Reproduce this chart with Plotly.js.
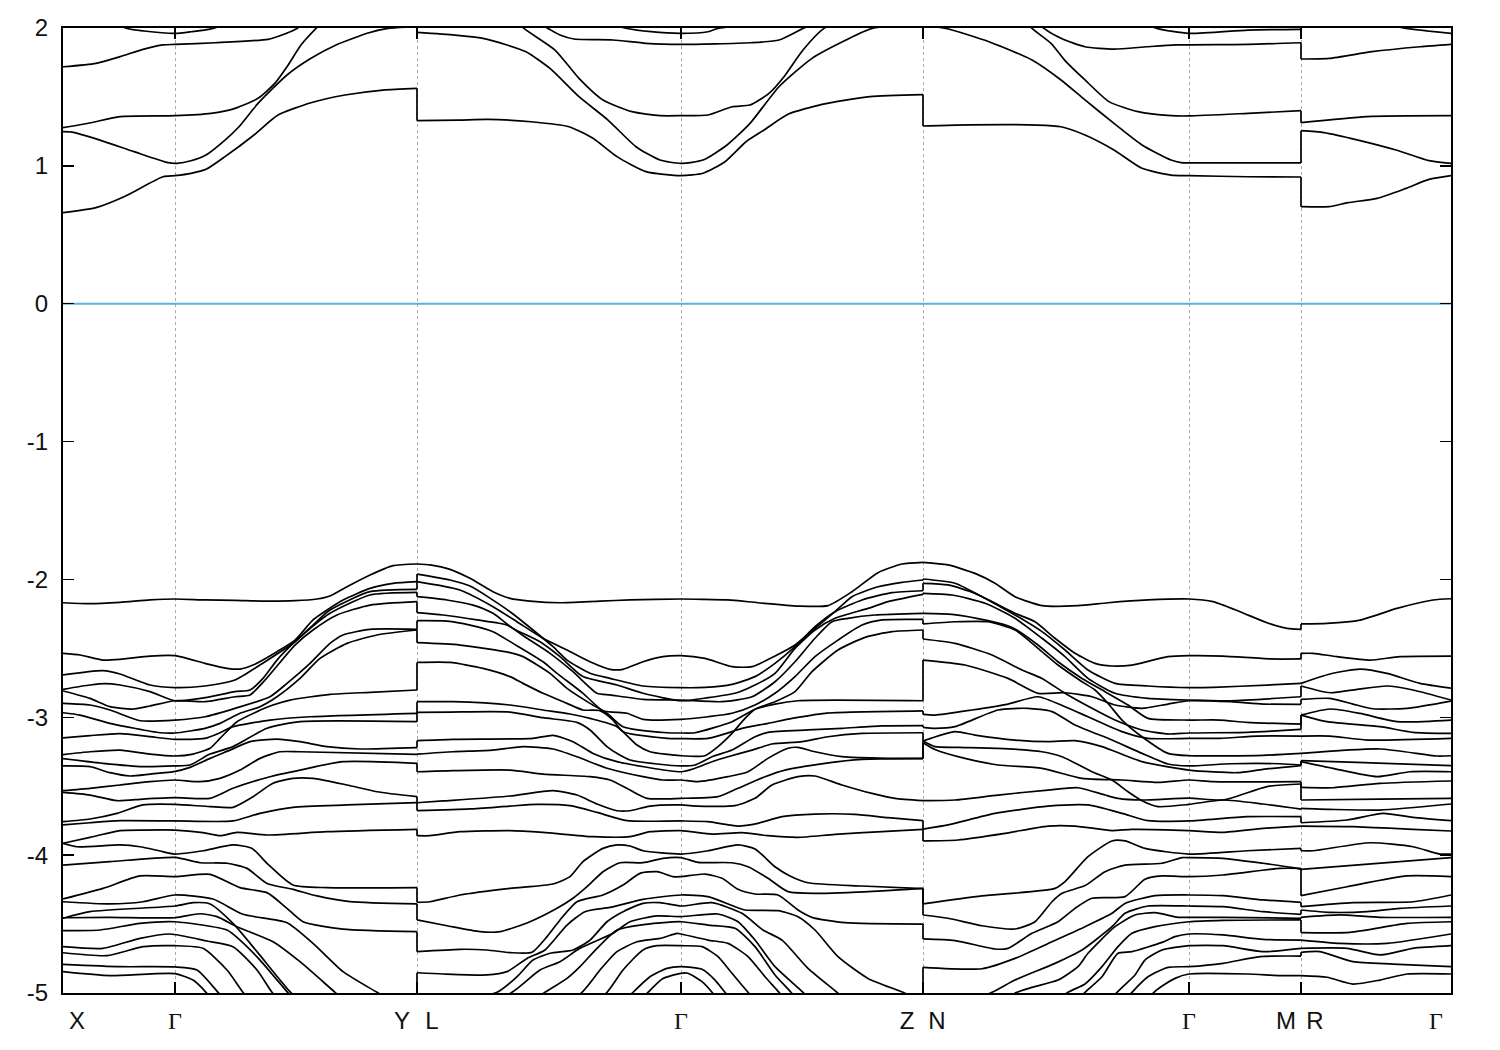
<!DOCTYPE html>
<html><head><meta charset="utf-8">
<script src="https://cdn.plot.ly/plotly-3.0.1.min.js"></script>
<style>html,body{margin:0;padding:0;background:#fff}</style></head>
<body><div id="chart" style="width:1500px;height:1050px"></div>
<script>
// k-path positions
const pathEnd=1388;
const symPoints=[112,354,618,860,1126,1238];
const labelPos=[14,112,339,369,618,844,874,1126,1223,1252,1373];
const labelTxt=['X','G','Y','L','G','Z','N','G','M','R','G'];
const energyTicks=[-5,-4,-3,-2,-1,0,1,2];
// X - Gamma - Y : valence
const a01k=[0,27,57,87,112,142,172,202,232,254,267,284,307,330,354];
const a01e=[-2.169,-2.176,-2.166,-2.149,-2.142,-2.149,-2.152,-2.157,-2.154,-2.142,-2.120,-2.053,-1.968,-1.900,-1.888];
const a02k=[0,17,40,57,87,112,142,164,177,190,214,232,250,264,280,307,330,354];
const a02e=[-2.536,-2.548,-2.585,-2.580,-2.556,-2.553,-2.609,-2.645,-2.650,-2.621,-2.524,-2.440,-2.294,-2.222,-2.149,-2.065,-2.028,-2.016];
const a03k=[0,40,57,87,112,142,172,202,232,250,267,307,354];
const a03e=[-2.693,-2.662,-2.686,-2.766,-2.785,-2.773,-2.730,-2.597,-2.452,-2.331,-2.222,-2.089,-2.072];
const a04k=[0,27,42,57,87,112,142,172,187,200,214,232,250,267,307,354];
const a04e=[-2.797,-2.766,-2.756,-2.766,-2.814,-2.880,-2.858,-2.814,-2.802,-2.718,-2.585,-2.452,-2.338,-2.246,-2.113,-2.094];
const a05k=[0,27,47,70,87,112,142,172,187,202,232,250,274,307,354];
const a05e=[-2.809,-2.863,-2.923,-2.940,-2.918,-2.880,-2.887,-2.851,-2.838,-2.730,-2.476,-2.367,-2.258,-2.186,-2.161];
const a06k=[0,27,47,77,112,142,172,207,224,247,267,280,307,354];
const a06e=[-2.899,-2.911,-2.947,-3.025,-3.020,-2.996,-2.935,-2.851,-2.754,-2.609,-2.464,-2.403,-2.362,-2.362];
const a07k=[0,17,47,97,112,142,157,177,197,214,237,257,284,314,354];
const a07e=[-2.967,-2.984,-3.044,-3.112,-3.114,-3.080,-3.044,-2.971,-2.923,-2.851,-2.718,-2.573,-2.464,-2.403,-2.367];
const a08k=[0,27,57,87,112,142,157,170,207,247,354];
const a08e=[-3.150,-3.133,-3.119,-3.141,-3.160,-3.153,-3.112,-3.068,-3.020,-2.996,-2.971];
const a09k=[0,27,57,87,112,130,147,157,174,194,210,227,267,307,354];
const a09e=[-3.271,-3.250,-3.238,-3.267,-3.281,-3.267,-3.225,-3.153,-3.032,-2.959,-2.911,-2.875,-2.834,-2.819,-2.802];
const a10k=[0,40,80,112,127,147,170,204,237,354];
const a10e=[-3.300,-3.334,-3.358,-3.353,-3.346,-3.267,-3.213,-3.080,-3.032,-3.032];
const a11k=[0,27,47,67,87,112,127,147,167,187,214,237,264,297,354];
const a11e=[-3.353,-3.358,-3.402,-3.426,-3.412,-3.392,-3.363,-3.298,-3.238,-3.177,-3.158,-3.177,-3.213,-3.230,-3.220];
const a12k=[0,27,57,87,112,137,157,177,197,217,237,354];
const a12e=[-3.532,-3.515,-3.491,-3.467,-3.455,-3.467,-3.443,-3.383,-3.298,-3.250,-3.250,-3.269];
const a13k=[0,27,54,80,112,147,170,207,237,280,354];
const a13e=[-3.545,-3.564,-3.605,-3.593,-3.583,-3.588,-3.515,-3.431,-3.383,-3.322,-3.334];
const a14k=[0,27,54,80,112,147,170,190,210,230,250,284,314,354];
const a14e=[-3.757,-3.738,-3.697,-3.636,-3.632,-3.648,-3.653,-3.576,-3.479,-3.443,-3.443,-3.491,-3.540,-3.576];
const a15k=[0,27,57,112,170,197,230,284,354];
const a15e=[-3.781,-3.765,-3.750,-3.752,-3.752,-3.697,-3.653,-3.636,-3.619];
const a16k=[0,27,57,80,112,140,157,174,204,264,354];
const a16e=[-3.914,-3.871,-3.822,-3.818,-3.818,-3.837,-3.859,-3.835,-3.854,-3.830,-3.813];
const a17k=[0,14,57,77,97,112,140,170,189,204,230,264,354];
const a17e=[-3.914,-3.939,-3.926,-3.939,-3.970,-3.992,-3.968,-3.926,-3.951,-4.059,-4.217,-4.236,-4.236];
const a18k=[0,47,112,137,164,184,204,230,254,287,354];
const a18e=[-4.072,-4.047,-4.016,-4.055,-4.059,-4.096,-4.205,-4.248,-4.296,-4.337,-4.354];
const a19k=[0,40,77,112,147,177,204,224,240,280,354];
const a19e=[-4.318,-4.241,-4.151,-4.156,-4.139,-4.236,-4.272,-4.386,-4.483,-4.536,-4.555];
const a20k=[0,47,80,112,150,180,224,250,280,314,344,354];
const a20e=[-4.338,-4.354,-4.338,-4.289,-4.318,-4.429,-4.490,-4.640,-4.845,-4.995,-5.123,-5.147];
const a21k=[0,47,112,137,154,174,210,237,272,304,354];
const a21e=[-4.454,-4.451,-4.454,-4.425,-4.446,-4.519,-4.628,-4.773,-4.995,-5.196,-5.486];
const a22k=[0,27,112,130,147,170,194,227,257,354];
const a22e=[-4.458,-4.410,-4.369,-4.345,-4.354,-4.495,-4.700,-4.990,-5.196,-5.752];
const a23k=[0,37,77,112,164,177,197,224,257,354];
const a23e=[-4.548,-4.543,-4.495,-4.483,-4.543,-4.616,-4.761,-4.990,-5.268,-5.994];
const a24k=[0,40,77,107,144,170,194,209,237,354];
const a24e=[-4.664,-4.676,-4.604,-4.572,-4.623,-4.664,-4.833,-4.995,-5.244,-6.236];
const a25k=[0,44,80,112,140,164,180,210,354];
const a25e=[-4.708,-4.729,-4.664,-4.657,-4.676,-4.833,-4.995,-5.268,-6.480];
const a26k=[0,57,112,134,155,184,354];
const a26e=[-4.792,-4.809,-4.811,-4.833,-4.995,-5.244,-6.720];
const a27k=[0,47,112,130,143,164,354];
const a27e=[-4.845,-4.874,-4.860,-4.906,-4.995,-5.196,-6.960];
// X - Gamma - Y : conduction
const a28k=[0,33,61,100,112,128,143,162,191,215,248,282,320,354];
const a28e=[0.660,0.697,0.776,0.921,0.929,0.946,0.975,1.067,1.224,1.369,1.458,1.514,1.550,1.562];
const a29k=[0,9,37,71,105,114,128,143,162,176,195,224,248,273,306,325,354];
const a29e=[1.248,1.245,1.187,1.103,1.023,1.018,1.037,1.079,1.187,1.284,1.453,1.659,1.780,1.877,1.966,1.997,2.010];
const a30k=[0,28,57,112,148,172,195,212,224,238,253,262,354];
const a30e=[1.277,1.313,1.357,1.364,1.381,1.417,1.490,1.600,1.719,1.877,1.997,2.060,2.400];
const a31k=[0,33,57,81,100,112,152,205,219,234,243,354];
const a31e=[1.719,1.744,1.792,1.847,1.877,1.881,1.893,1.918,1.949,1.997,2.046,2.500];
const a32k=[0,64,81,112,128,150,354];
const a32e=[2.200,1.997,1.978,1.961,1.973,1.997,2.600];
// L - Gamma - Z : valence
const b01k=[354,367,387,407,430,447,467,497,537,567,618,639,665,695,735,765,789,815,839,860];
const b01e=[-1.888,-1.895,-1.927,-1.992,-2.089,-2.137,-2.157,-2.169,-2.157,-2.149,-2.142,-2.144,-2.149,-2.169,-2.193,-2.190,-2.089,-1.951,-1.888,-1.876];
const b02k=[354,387,407,447,490,504,527,547,580,618,642,669,692,712,732,752,772,799,829,860];
const b02e=[-1.961,-2.004,-2.048,-2.234,-2.488,-2.585,-2.681,-2.718,-2.773,-2.785,-2.783,-2.761,-2.705,-2.609,-2.488,-2.343,-2.234,-2.149,-2.096,-2.082];
const b03k=[354,397,430,454,480,504,527,547,560,580,600,618,642,669,689,712,732,752,772,789,815,839,860];
const b03e=[-2.016,-2.077,-2.198,-2.307,-2.427,-2.512,-2.597,-2.652,-2.652,-2.597,-2.560,-2.553,-2.573,-2.633,-2.633,-2.556,-2.476,-2.355,-2.234,-2.125,-2.053,-2.021,-2.004];
const b04k=[354,384,410,430,450,477,497,520,554,580,618,645,672,692,712,732,752,772,805,825,860];
const b04e=[-2.125,-2.149,-2.186,-2.246,-2.355,-2.452,-2.560,-2.705,-2.766,-2.826,-2.880,-2.858,-2.826,-2.766,-2.681,-2.500,-2.367,-2.282,-2.210,-2.161,-2.108];
const b05k=[354,380,414,444,464,487,510,534,547,580,618,659,689,712,732,752,769,785,812,860];
const b05e=[-2.241,-2.258,-2.294,-2.331,-2.427,-2.536,-2.669,-2.826,-2.838,-2.870,-2.875,-2.887,-2.851,-2.742,-2.597,-2.427,-2.307,-2.282,-2.258,-2.246];
const b06k=[354,384,407,430,450,480,494,520,540,564,580,618,645,669,692,712,732,752,775,799,819,860];
const b06e=[-2.299,-2.302,-2.331,-2.379,-2.464,-2.597,-2.681,-2.826,-2.952,-2.971,-3.015,-3.015,-2.996,-2.971,-2.911,-2.826,-2.705,-2.560,-2.440,-2.331,-2.294,-2.290];
const b07k=[354,397,447,460,487,504,527,544,560,604,618,632,669,692,712,735,860];
const b07e=[-2.459,-2.476,-2.531,-2.560,-2.681,-2.790,-2.899,-2.971,-3.068,-3.112,-3.114,-3.112,-3.032,-2.942,-2.904,-2.880,-2.880];
const b08k=[354,387,420,447,460,480,504,520,537,550,560,604,618,645,669,679,705,729,762,860];
const b08e=[-2.602,-2.602,-2.645,-2.705,-2.754,-2.826,-2.899,-2.947,-2.952,-3.020,-3.104,-3.153,-3.155,-3.153,-3.104,-3.080,-3.044,-3.008,-2.971,-2.954];
const b09k=[354,390,447,480,507,527,554,574,587,618,642,655,669,682,692,712,732,749,775,802,829,860];
const b09e=[-2.887,-2.887,-2.911,-2.947,-2.976,-3.008,-3.068,-3.201,-3.250,-3.279,-3.279,-3.213,-3.117,-3.008,-2.942,-2.887,-2.814,-2.669,-2.512,-2.420,-2.379,-2.367];
const b10k=[354,387,447,480,514,527,544,555,567,594,618,632,649,669,692,705,745,779,819,860];
const b10e=[-2.964,-2.962,-2.962,-3.003,-3.037,-3.092,-3.213,-3.267,-3.310,-3.339,-3.353,-3.346,-3.286,-3.238,-3.141,-3.109,-3.092,-3.080,-3.063,-3.061];
const b11k=[354,390,470,490,510,530,554,618,632,649,665,689,709,739,765,799,860];
const b11e=[-3.170,-3.160,-3.153,-3.131,-3.177,-3.262,-3.322,-3.395,-3.370,-3.322,-3.286,-3.238,-3.194,-3.177,-3.141,-3.117,-3.112];
const b12k=[354,390,430,460,490,514,544,580,600,618,635,665,685,705,725,735,752,779,825,860];
const b12e=[-3.267,-3.250,-3.238,-3.213,-3.230,-3.286,-3.370,-3.431,-3.455,-3.455,-3.467,-3.431,-3.395,-3.298,-3.225,-3.218,-3.250,-3.286,-3.298,-3.298];
const b13k=[354,390,447,480,527,547,567,584,618,655,675,702,722,762,799,860];
const b13e=[-3.395,-3.387,-3.383,-3.412,-3.431,-3.455,-3.528,-3.588,-3.588,-3.576,-3.515,-3.431,-3.383,-3.334,-3.305,-3.300];
const b14k=[354,380,447,490,514,534,554,567,587,618,635,672,692,709,735,752,779,809,832,860];
const b14e=[-3.620,-3.607,-3.571,-3.532,-3.564,-3.629,-3.678,-3.678,-3.644,-3.636,-3.644,-3.641,-3.588,-3.491,-3.431,-3.426,-3.491,-3.552,-3.588,-3.605];
const b15k=[354,407,447,474,507,534,564,618,645,675,695,719,752,792,825,860];
const b15e=[-3.677,-3.665,-3.644,-3.632,-3.641,-3.690,-3.750,-3.752,-3.757,-3.789,-3.769,-3.721,-3.702,-3.704,-3.728,-3.750];
const b16k=[354,367,397,447,480,530,567,587,618,649,679,705,735,772,819,860];
const b16e=[-3.859,-3.859,-3.830,-3.822,-3.835,-3.866,-3.866,-3.830,-3.822,-3.847,-3.837,-3.859,-3.871,-3.849,-3.830,-3.813];
const b17k=[354,367,397,447,490,507,520,540,554,567,580,618,645,675,692,712,727,745,799,860];
const b17e=[-4.342,-4.338,-4.289,-4.241,-4.209,-4.156,-4.047,-3.951,-3.926,-3.934,-3.968,-3.992,-3.968,-3.926,-3.955,-4.084,-4.151,-4.200,-4.224,-4.243];
const b18k=[354,384,417,437,467,494,510,524,540,557,580,600,618,635,669,685,705,725,755,785,860];
const b18e=[-4.470,-4.512,-4.555,-4.555,-4.483,-4.386,-4.313,-4.229,-4.120,-4.055,-4.055,-4.023,-4.018,-4.052,-4.055,-4.084,-4.168,-4.265,-4.277,-4.272,-4.241];
const b19k=[354,397,424,447,469,484,497,514,540,560,577,594,610,618,642,659,675,692,715,735,749,782,860];
const b19e=[-4.700,-4.683,-4.688,-4.707,-4.705,-4.591,-4.470,-4.338,-4.289,-4.217,-4.132,-4.120,-4.156,-4.156,-4.137,-4.168,-4.248,-4.282,-4.289,-4.398,-4.451,-4.490,-4.500];
const b20k=[354,380,424,444,464,482,504,522,547,580,618,645,672,682,715,735,752,775,805,840,860];
const b20e=[-4.853,-4.862,-4.869,-4.845,-4.749,-4.688,-4.507,-4.410,-4.379,-4.321,-4.289,-4.301,-4.374,-4.398,-4.403,-4.446,-4.543,-4.736,-4.894,-4.995,-5.063];
const b21k=[354,434,454,470,487,510,527,544,560,580,597,618,649,679,700,719,745,774,799,860];
const b21e=[-5.099,-4.995,-4.882,-4.761,-4.712,-4.688,-4.616,-4.483,-4.410,-4.350,-4.345,-4.369,-4.345,-4.422,-4.543,-4.616,-4.821,-4.995,-5.148,-5.293];
const b22k=[354,449,477,497,517,550,567,594,618,655,675,692,712,740,772,860];
const b22e=[-5.341,-4.995,-4.833,-4.773,-4.676,-4.567,-4.483,-4.441,-4.446,-4.427,-4.483,-4.616,-4.809,-4.995,-5.244,-5.873];
const b23k=[354,482,504,517,534,554,577,618,645,672,692,712,728,762,860];
const b23e=[-5.583,-4.995,-4.894,-4.809,-4.676,-4.543,-4.507,-4.483,-4.507,-4.531,-4.664,-4.869,-4.995,-5.293,-6.115];
const b24k=[354,519,537,554,574,597,614,618,645,665,685,702,716,752,860];
const b24e=[-5.873,-4.995,-4.833,-4.700,-4.628,-4.604,-4.567,-4.572,-4.616,-4.640,-4.736,-4.882,-4.995,-5.293,-6.357];
const b25k=[354,544,560,580,594,618,639,655,669,685,719,860];
const b25e=[-6.236,-4.995,-4.833,-4.688,-4.657,-4.657,-4.664,-4.736,-4.857,-4.995,-5.293,-6.598];
const b26k=[354,570,587,604,618,639,652,662,695,860];
const b26e=[-6.598,-4.995,-4.882,-4.821,-4.809,-4.828,-4.906,-4.995,-5.293,-6.840];
const b27k=[354,585,600,618,625,639,649,679,860];
const b27e=[-6.961,-4.995,-4.894,-4.857,-4.857,-4.918,-4.995,-5.293,-7.082];
// L - Gamma - Z : conduction
const b28k=[354,396,425,468,506,530,554,583,618,640,662,683,701,725,759,807,860];
const b28e=[1.328,1.332,1.337,1.320,1.284,1.200,1.067,0.958,0.929,0.946,1.030,1.175,1.260,1.374,1.446,1.502,1.516];
const b29k=[354,392,420,444,463,487,516,545,573,597,618,640,664,687,716,749,783,809,860];
const b29e=[1.968,1.949,1.925,1.877,1.828,1.707,1.502,1.332,1.139,1.042,1.018,1.042,1.151,1.308,1.574,1.780,1.913,1.997,2.030];
const b30k=[354,440,461,492,516,540,569,597,618,645,669,687,706,721,740,761,783,860];
const b30e=[2.400,2.150,1.997,1.840,1.635,1.478,1.393,1.364,1.364,1.369,1.429,1.441,1.526,1.647,1.840,1.997,2.060,2.400];
const b31k=[354,460,485,497,511,550,583,618,687,716,740,760,860];
const b31e=[2.500,2.100,1.997,1.949,1.920,1.913,1.889,1.881,1.893,1.913,1.997,2.060,2.500];
const b32k=[354,540,564,588,618,645,655,700,860];
const b32e=[2.600,2.050,1.997,1.973,1.961,1.973,1.997,2.050,2.600];
// N - Gamma - M : valence
const c01k=[860,885,912,932,952,979,1015,1045,1085,1126,1150,1177,1204,1224,1238];
const c01e=[-1.876,-1.895,-1.956,-2.028,-2.125,-2.190,-2.190,-2.169,-2.149,-2.142,-2.161,-2.234,-2.314,-2.355,-2.362];
const c02k=[860,892,919,952,972,992,1012,1032,1049,1069,1105,1126,1160,1207,1238];
const c02e=[-1.997,-2.028,-2.125,-2.246,-2.307,-2.427,-2.536,-2.609,-2.628,-2.621,-2.560,-2.553,-2.556,-2.577,-2.577];
const c03k=[860,885,912,952,979,1002,1025,1052,1085,1126,1150,1204,1238];
const c03e=[-2.028,-2.040,-2.101,-2.258,-2.379,-2.512,-2.657,-2.754,-2.773,-2.785,-2.783,-2.766,-2.754];
const c04k=[860,889,922,952,979,1002,1025,1052,1085,1126,1168,1238];
const c04e=[-2.101,-2.113,-2.173,-2.282,-2.427,-2.560,-2.718,-2.826,-2.863,-2.875,-2.880,-2.851];
const c05k=[860,889,925,949,975,995,1019,1042,1065,1085,1126,1157,1184,1238];
const c05e=[-2.246,-2.253,-2.299,-2.348,-2.476,-2.597,-2.718,-2.814,-2.911,-3.008,-3.020,-3.020,-3.037,-3.049];
const c06k=[860,892,925,952,975,995,1019,1032,1045,1059,1079,1105,1126,1200,1238];
const c06e=[-2.323,-2.307,-2.307,-2.367,-2.500,-2.621,-2.742,-2.802,-2.899,-3.020,-3.141,-3.262,-3.279,-3.276,-3.262];
const c07k=[860,892,929,959,979,1002,1029,1052,1079,1105,1126,1184,1238];
const c07e=[-2.432,-2.464,-2.548,-2.657,-2.718,-2.826,-2.935,-3.020,-3.092,-3.121,-3.114,-3.109,-3.088];
const c08k=[860,902,945,975,1002,1029,1052,1079,1105,1126,1168,1200,1238];
const c08e=[-2.585,-2.621,-2.718,-2.826,-2.822,-2.851,-2.911,-2.935,-2.904,-2.880,-2.887,-2.904,-2.906];
const c09k=[860,872,909,945,975,1002,1025,1059,1085,1126,1157,1194,1238];
const c09e=[-2.979,-2.984,-2.947,-2.904,-2.851,-2.923,-2.996,-3.104,-3.153,-3.153,-3.153,-3.136,-3.136];
const c10k=[860,872,892,935,965,989,1012,1049,1079,1105,1126,1168,1217,1238];
const c10e=[-3.073,-3.080,-3.068,-2.947,-2.935,-2.959,-3.056,-3.165,-3.262,-3.339,-3.353,-3.337,-3.337,-3.346];
const c11k=[860,892,912,952,985,1012,1039,1079,1126,1174,1200,1238];
const c11e=[-3.172,-3.104,-3.129,-3.165,-3.177,-3.170,-3.213,-3.322,-3.383,-3.402,-3.378,-3.351];
const c12k=[860,872,902,935,979,1019,1059,1095,1126,1150,1238];
const c12e=[-3.184,-3.233,-3.298,-3.346,-3.370,-3.443,-3.455,-3.472,-3.455,-3.467,-3.467];
const c13k=[860,872,895,935,979,999,1029,1049,1065,1079,1095,1126,1160,1200,1238];
const c13e=[-3.172,-3.213,-3.218,-3.225,-3.250,-3.286,-3.395,-3.455,-3.540,-3.605,-3.648,-3.632,-3.600,-3.629,-3.666];
const c14k=[860,892,935,985,1015,1042,1055,1079,1126,1160,1204,1238];
const c14e=[-3.605,-3.600,-3.564,-3.528,-3.511,-3.564,-3.588,-3.600,-3.586,-3.600,-3.503,-3.484];
const c15k=[860,885,932,985,1025,1059,1085,1126,1184,1238];
const c15e=[-3.811,-3.781,-3.697,-3.644,-3.636,-3.697,-3.750,-3.752,-3.721,-3.721];
const c16k=[860,895,942,985,1012,1049,1069,1126,1160,1200,1238];
const c16e=[-3.897,-3.890,-3.842,-3.789,-3.789,-3.822,-3.813,-3.822,-3.835,-3.806,-3.789];
const c17k=[860,919,992,1002,1025,1049,1062,1082,1126,1184,1238];
const c17e=[-4.354,-4.296,-4.241,-4.192,-4.011,-3.897,-3.897,-3.951,-3.992,-3.968,-3.951];
const c18k=[860,885,919,952,972,989,999,1022,1042,1062,1099,1119,1126,1160,1200,1230,1238];
const c18e=[-4.434,-4.458,-4.512,-4.536,-4.483,-4.338,-4.277,-4.221,-4.120,-4.072,-4.059,-4.018,-4.018,-4.023,-4.059,-4.091,-4.103];
const c19k=[860,892,932,945,969,995,1012,1029,1062,1082,1099,1126,1160,1217,1238];
const c19e=[-4.608,-4.620,-4.681,-4.676,-4.567,-4.483,-4.386,-4.313,-4.301,-4.175,-4.151,-4.156,-4.144,-4.096,-4.096];
const c20k=[860,919,952,989,1022,1049,1062,1092,1126,1160,1200,1238];
const c20e=[-4.814,-4.824,-4.749,-4.628,-4.519,-4.422,-4.350,-4.294,-4.289,-4.294,-4.325,-4.342];
const c21k=[860,929,952,992,1019,1049,1062,1085,1126,1160,1200,1238];
const c21e=[-5.196,-4.995,-4.906,-4.785,-4.688,-4.519,-4.422,-4.369,-4.369,-4.374,-4.410,-4.429];
const c22k=[860,954,969,995,1015,1025,1052,1072,1092,1115,1126,1160,1238];
const c22e=[-5.389,-4.995,-4.959,-4.906,-4.809,-4.712,-4.519,-4.434,-4.417,-4.451,-4.451,-4.451,-4.458];
const c23k=[860,1005,1022,1039,1055,1069,1092,1126,1160,1238];
const c23e=[-5.752,-4.995,-4.935,-4.809,-4.664,-4.567,-4.519,-4.483,-4.473,-4.470];
const c24k=[860,1022,1039,1055,1069,1099,1112,1126,1160,1200,1238];
const c24e=[-6.115,-4.995,-4.882,-4.712,-4.700,-4.633,-4.591,-4.572,-4.579,-4.611,-4.616];
const c25k=[860,1054,1072,1082,1099,1126,1160,1200,1238];
const c25e=[-6.598,-4.995,-4.869,-4.761,-4.688,-4.657,-4.657,-4.700,-4.676];
const c26k=[860,1069,1085,1105,1126,1160,1197,1238];
const c26e=[-6.840,-4.995,-4.882,-4.814,-4.809,-4.785,-4.736,-4.732];
const c27k=[860,1091,1112,1126,1184,1217,1238];
const c27e=[-7.082,-4.995,-4.894,-4.862,-4.862,-4.874,-4.874];
// N - Gamma - M : conduction
const c28k=[860,893,974,998,1022,1051,1079,1108,1126,1185,1238];
const c28e=[1.289,1.296,1.296,1.284,1.224,1.115,0.982,0.933,0.929,0.921,0.919];
const c29k=[860,883,926,969,998,1022,1051,1079,1108,1118,1126,1238];
const c29e=[2.020,1.997,1.900,1.768,1.623,1.478,1.308,1.151,1.042,1.023,1.021,1.021];
const c30k=[860,950,969,988,1003,1022,1046,1075,1108,1126,1185,1238];
const c30e=[2.500,2.150,1.997,1.889,1.756,1.623,1.466,1.393,1.364,1.362,1.381,1.400];
const c31k=[860,960,981,998,1022,1051,1084,1113,1185,1238];
const c31e=[2.600,2.150,1.997,1.925,1.864,1.847,1.864,1.877,1.881,1.893];
const c32k=[860,1060,1094,1126,1185,1238];
const c32e=[2.700,2.100,1.997,1.961,1.985,1.990];
// R - Gamma : valence
const d01k=[1238,1264,1297,1334,1370,1388];
const d01e=[-2.323,-2.319,-2.295,-2.210,-2.149,-2.140];
const d02k=[1238,1250,1274,1307,1337,1388];
const d02e=[-2.536,-2.536,-2.560,-2.585,-2.560,-2.556];
const d03k=[1238,1267,1297,1324,1357,1388];
const d03e=[-2.754,-2.686,-2.650,-2.681,-2.754,-2.788];
const d04k=[1238,1267,1294,1324,1350,1388];
const d04e=[-2.773,-2.822,-2.797,-2.773,-2.802,-2.875];
const d05k=[1238,1267,1290,1310,1344,1388];
const d05e=[-2.870,-2.863,-2.904,-2.938,-2.935,-2.882];
const d06k=[1238,1267,1297,1334,1388];
const d06e=[-2.984,-2.940,-2.972,-3.032,-3.020];
const d07k=[1238,1264,1317,1350,1388];
const d07e=[-2.984,-3.032,-3.068,-3.109,-3.117];
const d08k=[1238,1267,1304,1388];
const d08e=[-3.136,-3.136,-3.165,-3.153];
const d09k=[1238,1317,1374,1388];
const d09e=[-3.262,-3.230,-3.281,-3.279];
const d10k=[1238,1294,1388];
const d10e=[-3.315,-3.327,-3.351];
const d11k=[1238,1270,1314,1347,1388];
const d11e=[-3.322,-3.371,-3.431,-3.395,-3.395];
const d12k=[1238,1270,1317,1388];
const d12e=[-3.508,-3.511,-3.479,-3.462];
const d13k=[1238,1317,1388];
const d13e=[-3.600,-3.593,-3.588];
const d14k=[1238,1267,1317,1388];
const d14e=[-3.661,-3.668,-3.673,-3.629];
const d15k=[1238,1284,1320,1350,1388];
const d15e=[-3.765,-3.745,-3.697,-3.726,-3.750];
const d16k=[1238,1290,1350,1388];
const d16e=[-3.789,-3.793,-3.813,-3.825];
const d17k=[1238,1250,1307,1350,1377,1388];
const d17e=[-3.968,-3.968,-3.910,-3.939,-3.992,-3.992];
const d18k=[1238,1388];
const d18e=[-4.103,-4.018];
const d19k=[1238,1284,1344,1388];
const d19e=[-4.294,-4.229,-4.151,-4.156];
const d20k=[1238,1290,1350,1388];
const d20e=[-4.374,-4.345,-4.338,-4.289];
const d21k=[1238,1267,1304,1337,1388];
const d21e=[-4.398,-4.415,-4.410,-4.386,-4.369];
const d22k=[1238,1277,1317,1388];
const d22e=[-4.451,-4.434,-4.451,-4.451];
const d23k=[1238,1287,1344,1388];
const d23e=[-4.562,-4.560,-4.495,-4.483];
const d24k=[1238,1277,1324,1388];
const d24e=[-4.616,-4.640,-4.640,-4.572];
const d25k=[1238,1284,1317,1350,1388];
const d25e=[-4.676,-4.676,-4.724,-4.676,-4.657];
const d26k=[1238,1257,1290,1330,1388];
const d26e=[-4.705,-4.700,-4.773,-4.790,-4.809];
const d27k=[1238,1264,1290,1317,1344,1388];
const d27e=[-4.874,-4.886,-4.935,-4.906,-4.862,-4.862];
// R - Gamma : conduction
const d28k=[1238,1266,1285,1314,1343,1366,1388];
const d28e=[0.704,0.704,0.733,0.764,0.837,0.902,0.929];
const d29k=[1238,1261,1295,1333,1366,1388];
const d29e=[1.255,1.241,1.187,1.115,1.038,1.018];
const d30k=[1238,1304,1388];
const d30e=[1.313,1.357,1.364];
const d31k=[1238,1266,1309,1357,1388];
const d31e=[1.775,1.780,1.828,1.864,1.881];
const d32k=[1238,1320,1343,1388];
const d32e=[2.100,2.030,1.997,1.961];

const segA=[[a01k,a01e],[a02k,a02e],[a03k,a03e],[a04k,a04e],[a05k,a05e],[a06k,a06e],[a07k,a07e],[a08k,a08e],[a09k,a09e],[a10k,a10e],[a11k,a11e],[a12k,a12e],[a13k,a13e],[a14k,a14e],[a15k,a15e],[a16k,a16e],[a17k,a17e],[a18k,a18e],[a19k,a19e],[a20k,a20e],[a21k,a21e],[a22k,a22e],[a23k,a23e],[a24k,a24e],[a25k,a25e],[a26k,a26e],[a27k,a27e],[a28k,a28e],[a29k,a29e],[a30k,a30e],[a31k,a31e],[a32k,a32e]];
const segB=[[b01k,b01e],[b02k,b02e],[b03k,b03e],[b04k,b04e],[b05k,b05e],[b06k,b06e],[b07k,b07e],[b08k,b08e],[b09k,b09e],[b10k,b10e],[b11k,b11e],[b12k,b12e],[b13k,b13e],[b14k,b14e],[b15k,b15e],[b16k,b16e],[b17k,b17e],[b18k,b18e],[b19k,b19e],[b20k,b20e],[b21k,b21e],[b22k,b22e],[b23k,b23e],[b24k,b24e],[b25k,b25e],[b26k,b26e],[b27k,b27e],[b28k,b28e],[b29k,b29e],[b30k,b30e],[b31k,b31e],[b32k,b32e]];
const segC=[[c01k,c01e],[c02k,c02e],[c03k,c03e],[c04k,c04e],[c05k,c05e],[c06k,c06e],[c07k,c07e],[c08k,c08e],[c09k,c09e],[c10k,c10e],[c11k,c11e],[c12k,c12e],[c13k,c13e],[c14k,c14e],[c15k,c15e],[c16k,c16e],[c17k,c17e],[c18k,c18e],[c19k,c19e],[c20k,c20e],[c21k,c21e],[c22k,c22e],[c23k,c23e],[c24k,c24e],[c25k,c25e],[c26k,c26e],[c27k,c27e],[c28k,c28e],[c29k,c29e],[c30k,c30e],[c31k,c31e],[c32k,c32e]];
const segD=[[d01k,d01e],[d02k,d02e],[d03k,d03e],[d04k,d04e],[d05k,d05e],[d06k,d06e],[d07k,d07e],[d08k,d08e],[d09k,d09e],[d10k,d10e],[d11k,d11e],[d12k,d12e],[d13k,d13e],[d14k,d14e],[d15k,d15e],[d16k,d16e],[d17k,d17e],[d18k,d18e],[d19k,d19e],[d20k,d20e],[d21k,d21e],[d22k,d22e],[d23k,d23e],[d24k,d24e],[d25k,d25e],[d26k,d26e],[d27k,d27e],[d28k,d28e],[d29k,d29e],[d30k,d30e],[d31k,d31e],[d32k,d32e]];

const bandLine={color:'#000',width:1.7,shape:'spline',smoothing:0.6};
const jumpLine={color:'#000',width:1.7};
const traces=[];
// Fermi level, carried by the overlaid axis holding the marks and dotted guides
traces.push({x:[0,pathEnd],y:[0,0],xaxis:'x2',mode:'lines',line:{color:'#56b4e9',width:2},hoverinfo:'skip'});
[segA,segB,segC,segD].forEach(seg=>seg.forEach(b=>traces.push({x:b[0],y:b[1],mode:'lines',line:bandLine,hoverinfo:'skip'})));
// At each path break the n-th band of one branch joins the n-th band of the next
[[segA,segB,354],[segB,segC,860],[segC,segD,1238]].forEach(([p,q,k])=>{
  const L=p.map(b=>b[1][b[1].length-1]).sort((u,v)=>v-u);
  const R=q.map(b=>b[1][0]).sort((u,v)=>v-u);
  const xs=[],ys=[];
  L.forEach((e,i)=>{xs.push(k,k,null);ys.push(e,R[i],null);});
  traces.push({x:xs,y:ys,mode:'lines',line:jumpLine,hoverinfo:'skip'});
});
const gamma='<span style="font-family:\'Liberation Serif\'">Γ</span>';
const layout={
  width:1500,height:1050,showlegend:false,paper_bgcolor:'#fff',plot_bgcolor:'#fff',
  margin:{l:63,r:49,t:28,b:57,pad:0},
  font:{family:'"Liberation Sans",Arial,sans-serif',size:24,color:'#111'},
  xaxis:{range:[0,pathEnd],tickmode:'array',tickvals:labelPos,ticktext:labelTxt.map(s=>s==='G'?gamma:s),
    ticks:'',showgrid:false,zeroline:false,showline:true,linecolor:'#000',linewidth:2,mirror:true,
    tickangle:0,ticklabelstandoff:5,tickfont:{size:24,color:'#111'}},
  xaxis2:{range:[0,pathEnd],overlaying:'x',anchor:'y',side:'bottom',tickmode:'array',tickvals:symPoints,
    showticklabels:false,ticks:'inside',ticklen:11,tickwidth:1.5,tickcolor:'#000',mirror:'ticks',
    showgrid:true,gridcolor:'#aaa',gridwidth:1,griddash:'3px,3px',zeroline:false,showline:false},
  yaxis:{range:[-5,2],tickmode:'array',tickvals:energyTicks,ticktext:energyTicks.map(String),
    ticks:'inside',ticklen:11,tickwidth:1.5,tickcolor:'#000',mirror:'ticks',showgrid:false,zeroline:false,
    showline:true,linecolor:'#000',linewidth:2,ticklabelstandoff:8,tickfont:{size:24,color:'#111'}}
};
Plotly.newPlot('chart',traces,layout,{displayModeBar:false,staticPlot:true});
</script></body></html>
